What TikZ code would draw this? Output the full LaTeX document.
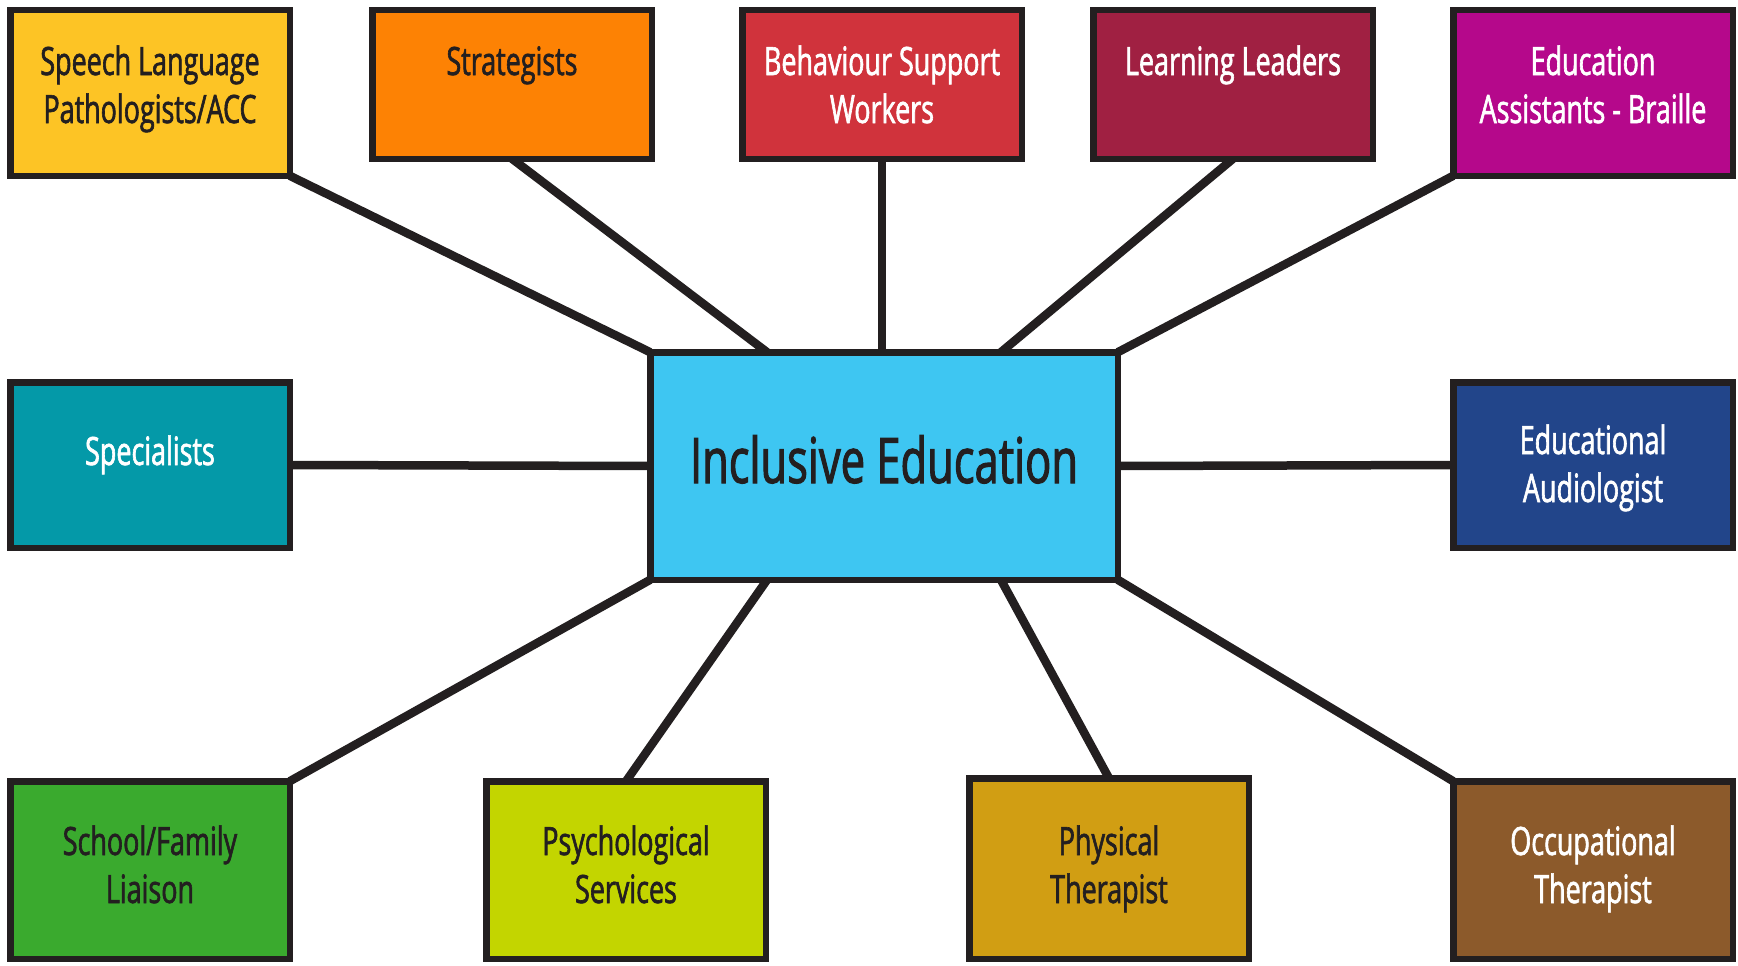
\documentclass[tikz,border=0pt]{standalone}
\usepackage{fontspec}
\setmainfont{Open Sans}[FakeStretch=0.69, FakeBold=1.6]
\usetikzlibrary{calc,backgrounds}
\definecolor{bordercol}{HTML}{231F20}
\definecolor{cyel}{HTML}{FDC425}
\definecolor{corange}{HTML}{FD8204}
\definecolor{cred}{HTML}{D0333C}
\definecolor{cmaroon}{HTML}{A02042}
\definecolor{cmagenta}{HTML}{B5088B}
\definecolor{cteal}{HTML}{0499A8}
\definecolor{cblue}{HTML}{3EC6F2}
\definecolor{cnavy}{HTML}{22458A}
\definecolor{cgreen}{HTML}{3AAA2E}
\definecolor{clime}{HTML}{C3D500}
\definecolor{cgold}{HTML}{D19E13}
\definecolor{cbrown}{HTML}{8C5A2B}
\begin{document}
\begin{tikzpicture}[x=1pt,y=-1pt,
  box/.style={draw=bordercol, line width=6.5pt, inner sep=0pt, outer sep=0pt, minimum width=279.5pt},
  conn/.style={draw=bordercol, line width=8.5pt},
  lbl/.style={font=\fontsize{39}{48}\selectfont, align=center, inner sep=0pt, anchor=base},
  dark/.style={text=bordercol},
  light/.style={text=white}]
\useasboundingbox (0,0) rectangle (1738,966);
% boxes
\node[box, fill=cyel,     minimum height=165.5pt] (slp)   at (150,93) {};
\node[box, fill=corange,  minimum height=148.5pt] (strat) at (512,84.5) {};
\node[box, fill=cred,     minimum height=148.5pt] (bsw)   at (882,84.5) {};
\node[box, fill=cmaroon,  minimum height=148.5pt] (ll)    at (1233,84.5) {};
\node[box, fill=cmagenta, minimum height=165.5pt] (ea)    at (1593,93) {};
\node[box, fill=cteal,    minimum height=165.5pt] (spec)  at (150,465) {};
\node[box, fill=cblue, minimum width=467.5pt, minimum height=227.5pt] (ie) at (884,466) {};
\node[box, fill=cnavy,    minimum height=165.5pt] (aud)   at (1593,465) {};
\node[box, fill=cgreen,   minimum height=177.5pt] (sfl)   at (150,870) {};
\node[box, fill=clime,    minimum height=177.5pt] (psy)   at (626,870) {};
\node[box, fill=cgold,    minimum height=180.5pt] (pt)    at (1109,868.5) {};
\node[box, fill=cbrown,   minimum height=177.5pt] (ot)    at (1593,870) {};
% labels (anchor at the baseline of the last line)
\node[lbl, dark]  (slpL)   at (150,123)  {Speech Language\\Pathologists/ACC};
\node[lbl, dark]  (stratL) at (512,75)   {Strategists};
\node[lbl, light] (bswL)   at (882,123)  {Behaviour Support\\Workers};
\node[lbl, light] (llL)    at (1233,75)  {Learning Leaders};
\node[lbl, light] (eaL)    at (1593,123) {Education\\Assistants - Braille};
\node[lbl, light] (specL)  at (150,465)  {Specialists};
\node[lbl, dark, font=\fontsize{63}{76}\selectfont] (ieL) at (884,483) {Inclusive Education};
\node[lbl, light] (audL)   at (1593,502) {Educational\\Audiologist};
\node[lbl, dark]  (sflL)   at (150,903)  {School/Family\\Liaison};
\node[lbl, dark]  (psyL)   at (626,903)  {Psychological\\Services};
\node[lbl, dark]  (ptL)    at (1109,903) {Physical\\Therapist};
\node[lbl, light] (otL)    at (1593,903) {Occupational\\Therapist};
% connectors
\begin{scope}[on background layer]
\draw[conn] (slp.south east) -- (ie.north west);
\draw[conn] (strat.south) -- ($(ie.north west)!0.25!(ie.north east)$);
\draw[conn] (bsw.south) -- (bsw.south |- ie.north);
\draw[conn] (ll.south) -- ($(ie.north west)!0.75!(ie.north east)$);
\draw[conn] (ea.south west) -- (ie.north east);
\draw[conn] (spec.east) -- (ie.west);
\draw[conn] (aud.west) -- (ie.east);
\draw[conn] (sfl.north east) -- (ie.south west);
\draw[conn] (psy.north) -- ($(ie.south west)!0.25!(ie.south east)$);
\draw[conn] (pt.north) -- ($(ie.south west)!0.75!(ie.south east)$);
\draw[conn] (ot.north west) -- (ie.south east);
\end{scope}
\end{tikzpicture}
\end{document}
